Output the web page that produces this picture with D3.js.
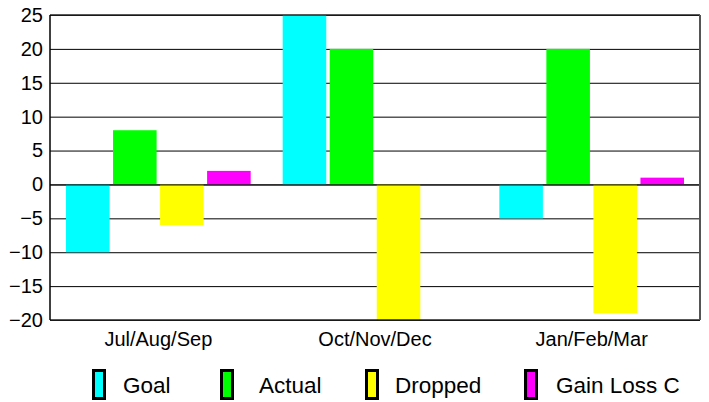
<!DOCTYPE html>
<html>
<head>
<meta charset="utf-8">
<script src="https://cdn.jsdelivr.net/npm/d3@7"></script>
<style>
  html, body { margin: 0; padding: 0; background: #fff; }
  svg { display: block; font-family: "Liberation Sans", Arial, sans-serif; }
</style>
</head>
<body>
<svg id="chart" width="709" height="402"></svg>
<script>
const categories = ["Jul/Aug/Sep", "Oct/Nov/Dec", "Jan/Feb/Mar"];
const seriesNames = ["Goal", "Actual", "Dropped", "Gain Loss C"];
const seriesColors = ["#00ffff", "#00ff00", "#ffff00", "#ff00ff"];
const goal = [-10, 25, -5];
const actual = [8, 20, 20];
const dropped = [-6, -20, -19];
const gainLoss = [2, 0, 1];
const yTicks = [25, 20, 15, 10, 5, 0, -5, -10, -15, -20];

const seriesValues = [goal, actual, dropped, gainLoss];

const svg = d3.select("#chart");
const pL = 50, pT = 15, pR = 700, pB = 320;
const W = pR - pL, H = pB - pT;

const x0 = d3.scaleBand().domain(categories).range([pL, pR]).padding(0);
const x1 = d3.scaleBand().domain(seriesNames)
  .range([16, x0.bandwidth() - 16]).paddingInner(0.074).paddingOuter(0);
const y = d3.scaleLinear().domain([-20, 25]).range([pB, pT]);

// grid + y axis
const yAxis = d3.axisLeft(y).tickValues(yTicks).tickSizeInner(-W).tickSizeOuter(0).tickPadding(7);
const gy = svg.append("g").attr("transform", `translate(${pL},0)`).call(yAxis);
gy.select(".domain").remove();
gy.selectAll(".tick line").attr("stroke", "#000").attr("stroke-width", 1);
gy.selectAll(".tick text").attr("fill", "#000").style("font-size", "20px")
  .style("font-family", '"Liberation Sans", Arial, sans-serif');

// bars
svg.append("clipPath").attr("id", "plotclip")
  .append("rect").attr("x", pL).attr("y", pT).attr("width", W).attr("height", H);

const barsG = svg.append("g").attr("clip-path", "url(#plotclip)");
categories.forEach((cat, ci) => {
  seriesNames.forEach((s, si) => {
    const v = seriesValues[si][ci];
    if (v === 0) return;
    barsG.append("rect")
      .attr("x", x0(cat) + x1(s))
      .attr("width", x1.bandwidth())
      .attr("y", y(Math.max(v, 0)))
      .attr("height", Math.abs(y(v) - y(0)))
      .attr("fill", seriesColors[si]);
  });
});

// zero line on top of bars
svg.append("line").attr("x1", pL).attr("x2", pR)
  .attr("y1", y(0) + 0.5).attr("y2", y(0) + 0.5)
  .attr("stroke", "#000").attr("stroke-width", 1);

// plot frame
svg.append("line").attr("x1", pL).attr("x2", pR).attr("y1", pT).attr("y2", pT)
  .attr("stroke", "#222").attr("stroke-width", 1.5);
svg.append("line").attr("x1", pL).attr("x2", pR).attr("y1", pB).attr("y2", pB)
  .attr("stroke", "#222").attr("stroke-width", 1.5);
svg.append("line").attr("x1", pL).attr("x2", pL).attr("y1", pT).attr("y2", pB)
  .attr("stroke", "#000").attr("stroke-width", 1.5);
svg.append("line").attr("x1", pR).attr("x2", pR).attr("y1", pT).attr("y2", pB)
  .attr("stroke", "#555").attr("stroke-width", 2);

// x axis labels
const xAxis = d3.axisBottom(x0).tickSize(0).tickPadding(12);
const gx = svg.append("g").attr("transform", `translate(0,${pB})`).call(xAxis);
gx.select(".domain").remove();
gx.selectAll(".tick text").attr("fill", "#000").style("font-size", "20px")
  .style("font-family", '"Liberation Sans", Arial, sans-serif');

// legend
const legendSwatchX = [92, 220, 365, 524];
const legendTextX = [123, 259, 395, 556];
const legend = svg.append("g");
seriesNames.forEach((s, i) => {
  legend.append("rect").attr("x", legendSwatchX[i] + 1.5).attr("y", 370.5)
    .attr("width", 11).attr("height", 28)
    .attr("fill", seriesColors[i]).attr("stroke", "#000").attr("stroke-width", 3);
  legend.append("text").attr("x", legendTextX[i]).attr("y", 393)
    .style("font-size", "22.5px").attr("fill", "#000").text(s);
});
</script>
</body>
</html>
